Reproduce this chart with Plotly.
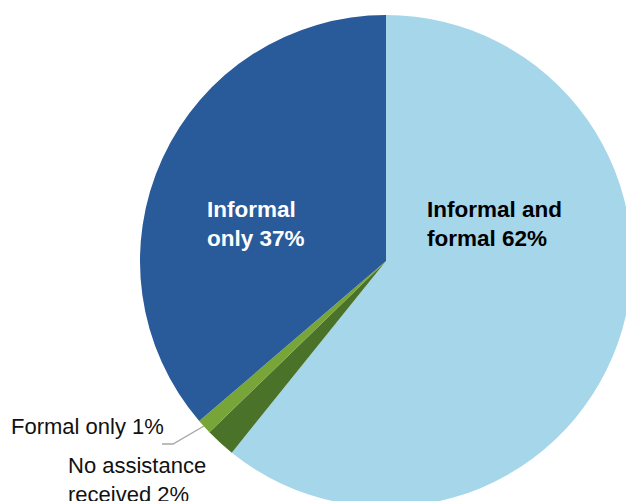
import plotly.graph_objects as go

# ---- data ----
categories = ["Informal and formal", "No assistance received", "Formal only", "Informal only"]
values = [62, 2, 1, 37]
colors = ["#A5D6EA", "#4A7229", "#78A537", "#295A99"]

W, H = 640, 530  # figure is a bit larger than the 626x501 window; the pie is cropped like the original


def px(x):
    return x / W


def py(y):
    return 1 - y / H


cx, cy, r = 386, 261, 246

fig = go.Figure(
    go.Pie(
        labels=categories,
        values=values,
        marker=dict(colors=colors, line=dict(width=0)),
        sort=False,
        direction="clockwise",
        rotation=0,
        textinfo="none",
        hoverinfo="label+percent",
        domain=dict(x=[px(cx - r), px(cx + r)], y=[py(cy + r), py(cy - r)]),
        showlegend=False,
    )
)

lab = {c: f"{v}%" for c, v in zip(categories, values)}
fam = "Liberation Sans, Arial, sans-serif"

ann = [
    (205, 195, f"<b>Informal<br>only {lab['Informal only']}</b>", "white", 22.5),
    (425, 195, f"<b>Informal and<br>formal {lab['Informal and formal']}</b>", "black", 22.5),
    (9, 412, f"Formal only {lab['Formal only']}", "#111111", 22),
    (66, 451, f"No assistance<br>received {lab['No assistance received']}", "#111111", 22),
]
for x, y, t, c, s in ann:
    fig.add_annotation(
        x=px(x), y=py(y), xref="paper", yref="paper", text=t, showarrow=False,
        xanchor="left", yanchor="top", align="left",
        font=dict(family=fam, size=s, color=c),
    )

# leader line for "Formal only"
fig.add_shape(
    type="path",
    path=f"M {px(162)} {py(444)} L {px(173)} {py(444)} L {px(204)} {py(426)}",
    xref="paper", yref="paper", line=dict(color="#A6A6A6", width=1.3),
)

fig.update_layout(
    width=W, height=H,
    margin=dict(l=0, r=0, t=0, b=0),
    paper_bgcolor="white", plot_bgcolor="white",
)

fig.write_html(
    "out.html",
    config={"displayModeBar": False},
    post_script="document.body.style.margin='0';document.body.style.overflow='hidden';document.documentElement.style.overflow='hidden';",
)
